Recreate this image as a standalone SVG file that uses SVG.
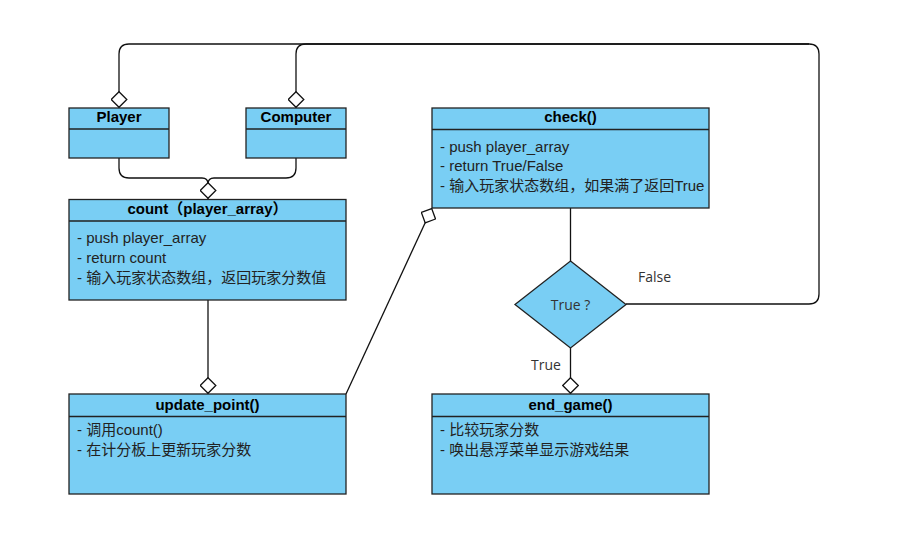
<svg xmlns="http://www.w3.org/2000/svg" width="908" height="547" viewBox="0 0 908 547">
<style>
.box{fill:#79CEF4;stroke:#222;stroke-width:1.3}
.div{stroke:#222;stroke-width:1.3;fill:none}
.t{font-family:"Liberation Sans",Arial,"Noto Sans CJK SC",sans-serif;font-size:15px;font-weight:bold;fill:#000;text-anchor:middle}
.b{font-family:"Liberation Sans",Arial,"Noto Sans CJK SC",sans-serif;font-size:15px;fill:#222}
.lbl{font-family:"Open Sans","Noto Sans CJK SC",sans-serif;font-size:14px;fill:#333}
.c{fill:none;stroke:#111;stroke-width:1.3}
</style>
<defs>
<marker id="dia" viewBox="0 0 17 17" refX="17" refY="8.5" markerWidth="17" markerHeight="17" markerUnits="userSpaceOnUse" orient="auto">
<path d="M0.7,8.5 L8.5,0.7 L16.3,8.5 L8.5,16.3 Z" fill="#fff" stroke="#111" stroke-width="1.3"/>
</marker>
</defs>
<rect width="908" height="547" fill="#fff"/>
<g id="connectors">
<path class="c" d="M626 304 L809 304 Q819 304 819 294 L819 54 Q819 44 809 44 L129 44 Q119 44 119 54 L119 108" marker-end="url(#dia)"/>
<path class="c" d="M809 44 L306 44 Q296 44 296 54 L296 108" marker-end="url(#dia)"/>
<path class="c" d="M119 158 L119 168 Q119 178 129 178 L202 178 Q208 178 208 184 L208 199" marker-end="url(#dia)"/>
<path class="c" d="M296 158 L296 168 Q296 178 286 178 L214 178 Q208 178 208 184"/>
<path class="c" d="M208 300 L208 394" marker-end="url(#dia)"/>
<path class="c" d="M570.5 208 L570.5 261"/>
<path class="c" d="M570.5 348 L570.5 394" marker-end="url(#dia)"/>
<path class="c" d="M346 394 L432 208" marker-end="url(#dia)"/>
<text class="lbl" x="638" y="282">False</text>
<text class="lbl" x="531" y="370">True</text>
</g>
<g id="player">
<rect class="box" x="69" y="108" width="100" height="50"/>
<line class="div" x1="69" y1="129" x2="169" y2="129"/>
<text class="t" x="119" y="122">Player</text>
</g>
<g id="computer">
<rect class="box" x="246" y="108" width="100" height="50"/>
<line class="div" x1="246" y1="129" x2="346" y2="129"/>
<text class="t" x="296" y="122">Computer</text>
</g>
<g id="count">
<rect class="box" x="69" y="199.5" width="277" height="100.5"/>
<line class="div" x1="69" y1="221" x2="346" y2="221"/>
<text class="t" x="207.5" y="214">count（player_array）</text>
<text class="b" x="77" y="243">- push player_array</text>
<text class="b" x="77" y="263">- return count</text>
<text class="b" x="77" y="283">- 输入玩家状态数组，返回玩家分数值</text>
</g>
<g id="check">
<rect class="box" x="432" y="108" width="277" height="100"/>
<line class="div" x1="432" y1="129.5" x2="709" y2="129.5"/>
<text class="t" x="570.5" y="122">check()</text>
<text class="b" x="440" y="151.5">- push player_array</text>
<text class="b" x="440" y="171">- return True/False</text>
<text class="b" x="440" y="191">- 输入玩家状态数组，如果满了返回True</text>
</g>
<g id="decision">
<polygon class="box" points="570.5,261 626,304.5 570.5,348 515,304.5"/>
<text class="lbl" x="570.5" y="309.5" text-anchor="middle">True ?</text>
</g>
<g id="update_point">
<rect class="box" x="69" y="394" width="277" height="100"/>
<line class="div" x1="69" y1="416.5" x2="346" y2="416.5"/>
<text class="t" x="207.5" y="409.5">update_point()</text>
<text class="b" x="77" y="435">- 调用count()</text>
<text class="b" x="77" y="455">- 在计分板上更新玩家分数</text>
</g>
<g id="end_game">
<rect class="box" x="432" y="394" width="277" height="100"/>
<line class="div" x1="432" y1="416.5" x2="709" y2="416.5"/>
<text class="t" x="570.5" y="409.5">end_game()</text>
<text class="b" x="440" y="435">- 比较玩家分数</text>
<text class="b" x="440" y="455">- 唤出悬浮菜单显示游戏结果</text>
</g>
</svg>
